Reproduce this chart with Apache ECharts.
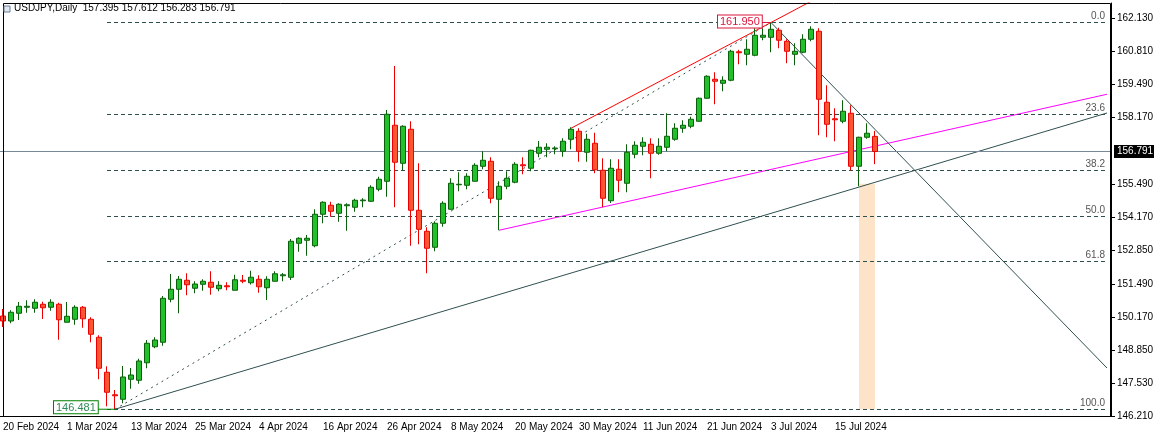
<!DOCTYPE html>
<html><head><meta charset="utf-8">
<script src="https://cdn.jsdelivr.net/npm/echarts@6/dist/echarts.min.js"></script>
<style>html,body{margin:0;padding:0;background:#fff}#c{width:1154px;height:438px}</style>
</head><body><div id="c"></div>
<script>
const opens=[150.21,150.01,150.32,150.56,150.52,150.68,150.56,150.68,149.96,150.08,150.56,150.08,149.36,147.96,147.06,146.88,147.68,147.64,148.34,148.98,149.16,150.88,151.28,151.64,151.32,151.48,151.56,151.30,151.42,151.24,151.64,151.54,151.68,151.34,151.60,151.82,151.76,153.12,153.24,153.02,154.28,154.64,154.32,154.62,154.56,154.82,154.80,155.28,155.60,157.84,156.32,157.68,154.44,153.60,152.96,153.92,154.48,155.46,155.44,155.60,156.20,156.40,154.88,155.40,155.56,156.26,156.12,156.72,156.88,156.90,156.80,157.28,157.60,156.76,157.12,156.04,154.82,156.08,155.52,156.68,157.00,157.08,156.72,156.96,157.28,157.72,157.80,158.00,158.92,159.68,159.52,159.64,160.78,160.68,160.64,161.36,161.36,161.64,161.20,160.68,160.76,161.28,161.60,158.76,158.10,158.00,158.32,156.20,157.36,157.395];
const highs=[150.49,150.44,150.77,150.84,150.88,150.78,150.88,150.74,150.77,150.64,150.61,150.16,149.44,148.20,147.25,148.21,148.13,148.50,149.25,149.36,151.01,151.89,151.81,151.92,151.60,151.68,152.00,151.60,151.56,151.86,151.85,152.02,151.84,151.80,152.00,151.93,153.29,153.36,153.45,154.48,154.80,154.78,154.72,154.72,154.90,154.92,155.44,155.78,158.45,160.21,157.84,158.00,156.32,153.76,154.00,154.80,155.72,155.96,155.92,156.32,156.80,156.56,155.60,156.00,156.36,156.56,156.86,157.21,157.12,157.00,157.32,157.76,157.72,157.50,157.54,156.52,156.48,156.48,157.08,157.20,157.36,157.32,157.32,158.32,157.92,158.04,158.18,158.95,159.84,159.96,159.80,160.86,160.86,161.28,161.72,161.72,161.95,161.74,161.28,161.12,161.48,161.80,161.72,159.44,158.52,158.84,158.64,157.38,157.92,157.612];
const lows=[149.77,149.92,150.05,150.34,150.34,150.09,150.42,149.26,149.96,149.86,149.74,149.16,147.68,146.60,146.481,146.72,147.30,147.50,148.12,148.92,149.02,150.76,150.32,151.04,151.12,151.22,151.06,151.20,151.24,151.24,151.52,151.47,151.14,150.85,151.60,151.60,151.65,152.78,152.62,152.96,153.92,154.18,153.98,153.62,154.38,154.56,154.77,155.20,154.98,154.56,156.05,153.02,153.08,151.92,152.80,153.78,154.48,155.20,155.28,155.60,156.08,154.72,153.64,155.28,155.52,155.88,156.00,156.56,156.56,156.68,156.58,156.88,156.38,156.38,155.92,154.56,154.73,155.16,155.16,156.52,156.64,155.72,156.66,156.80,157.22,157.54,157.72,157.98,158.90,158.68,159.20,159.60,160.28,160.24,160.60,161.24,160.76,160.92,160.32,160.24,160.72,161.20,157.44,157.36,157.20,157.92,156.04,155.40,157.30,156.283];
const closes=[150.01,150.36,150.60,150.60,150.76,150.54,150.76,150.06,150.20,150.56,150.10,149.48,148.12,147.16,147.02,147.77,147.85,148.41,149.12,149.25,150.92,151.28,151.68,151.46,151.49,151.60,151.36,151.44,151.38,151.66,151.60,151.76,151.38,151.68,151.90,151.86,153.20,153.32,153.32,154.28,154.76,154.40,154.68,154.66,154.84,154.85,155.36,155.68,158.28,156.36,157.80,154.44,153.68,152.92,153.92,154.72,155.52,155.48,155.80,156.24,156.44,154.92,155.40,155.72,156.28,156.22,156.84,156.96,156.96,156.93,157.20,157.68,156.80,157.28,156.06,154.92,156.12,155.64,156.76,157.04,157.16,156.72,157.00,157.40,157.72,157.84,158.08,158.92,159.80,159.60,159.64,160.80,160.74,160.88,161.44,161.44,161.68,161.24,160.80,160.80,161.28,161.68,158.88,157.88,158.06,158.40,156.20,157.36,157.52,156.791];
const dateTicks=["20 Feb 2024","1 Mar 2024","13 Mar 2024","25 Mar 2024","4 Apr 2024","16 Apr 2024","26 Apr 2024","8 May 2024","20 May 2024","30 May 2024","11 Jun 2024","21 Jun 2024","3 Jul 2024","15 Jul 2024"];
const priceTicks=[146.21,147.53,148.85,150.17,151.49,152.85,154.17,155.49,158.17,159.49,160.81,162.13];
const fibLevels=[0,23.6,38.2,50,61.8,100];
const swingHigh=161.95, swingLow=146.481, lastPrice=156.791;
const trendRed=[[71,157.72],[110,164.32]];
const trendMagenta=[[62,153.64],[138,159.08]];
const trendBlack=[[14,146.481],[138,158.33]];
const trendDown=[[96,161.95],[138,148.13]];
const fibDiag=[[14,146.481],[96,161.95]];

const N=139;
const cats=[];for(let i=0;i<N;i++)cats.push(String(i));
const candles=opens.map((o,i)=>[o,closes[i],lows[i],highs[i]]);
const F='Tahoma, "DejaVu Sans", sans-serif';
const F2='"Liberation Sans", Arial, sans-serif';
const lineS=(d,color,type)=>({type:'line',data:d,symbol:'none',silent:true,clip:true,lineStyle:{color:color,width:1,type:type||'solid'},z:3,animation:false});
const fibData=fibLevels.map(l=>{const v=swingHigh-(swingHigh-swingLow)*l/100;return [{coord:[13,v]},{coord:[138,v],label:{formatter:l.toFixed(1)}}];});
const tickOn=(i)=>i%8===0&&i/8<dateTicks.length;

const chart=echarts.init(document.getElementById('c'));
chart.setOption({
  animation:false,
  grid:{left:-1,right:43,top:3,bottom:22,containLabel:false,outerBoundsMode:'none'},
  xAxis:{type:'category',data:cats,boundaryGap:true,
    axisLine:{lineStyle:{color:'#000'}},
    axisTick:{interval:tickOn,alignWithLabel:true,lineStyle:{color:'#000'},length:4},
    axisLabel:{interval:tickOn,hideOverlap:false,formatter:(v,i)=>dateTicks[i/8]||'',align:'left',color:'#000',fontSize:10,fontFamily:F2,margin:6},
    splitLine:{show:false}},
  yAxis:{type:'value',position:'right',min:146.21,max:162.73,scale:true,
    axisLine:{show:true,lineStyle:{color:'#000'}},
    axisTick:{show:true,customValues:priceTicks,length:4,lineStyle:{color:'#000'}},
    axisLabel:{customValues:priceTicks,formatter:v=>v.toFixed(3),color:'#000',fontSize:10,fontFamily:F2,margin:6},
    splitLine:{show:false}},
  series:[
    {type:'candlestick',data:candles,barWidth:6,z:5,
      itemStyle:{color:'#22c02a',color0:'#ff5533',borderColor:'#0a5f0a',borderColor0:'#ee0000',borderWidth:1},
      markArea:{silent:true,itemStyle:{color:'#fde3c8'},data:[[{coord:[107,155.5]},{coord:[109,swingLow]}]]},
      markLine:{silent:true,symbol:'none',animation:false,
        lineStyle:{color:'#778899',width:1,type:'solid'},
        label:{show:true,position:'end',formatter:lastPrice.toFixed(3),backgroundColor:'#000',color:'#fff',fontSize:10,fontFamily:F2,padding:[2,3,1,3],distance:3},
        data:[{yAxis:lastPrice}]}},
    {type:'line',data:[],symbol:'none',silent:true,
      markLine:{silent:true,symbol:'none',animation:false,
        lineStyle:{color:'#2f4f4f',width:1,type:[4,3]},
        label:{show:true,position:'insideEndTop',color:'#555',fontSize:10,fontFamily:F2,distance:[2,1]},
        data:fibData}},
    lineS(fibDiag,'#2f4f4f',[2,4]),
    lineS(trendRed,'#ff0000'),
    lineS(trendMagenta,'#ff00ff'),
    lineS(trendBlack,'#2f4f4f'),
    lineS(trendDown,'#2f4f4f')
  ]
});
const pLow=chart.convertToPixel({gridIndex:0},[14,swingLow]);
const pHigh=chart.convertToPixel({gridIndex:0},[96,swingHigh]);
chart.setOption({graphic:[
  {type:'rect',shape:{x:3.5,y:3.5,width:1107,height:413},style:{fill:'none',stroke:'#000',lineWidth:1},z:100,silent:true},
  {type:'text',left:14,top:3,style:{text:'USDJPY,Daily  157.395 157.612 156.283 156.791',fill:'#000',font:'10px '+F2},z:100},
  {type:'polygon',shape:{points:[[4,6],[10,6],[10,12],[4,12]]},style:{fill:'#dfe7ef',stroke:'#6a7f96'},z:100},
  {type:'line',shape:{x1:pLow[0]-18,y1:pLow[1],x2:pLow[0],y2:pLow[1]},style:{stroke:'#008000',lineWidth:1},z:100},
  {type:'text',x:pLow[0]-61,y:pLow[1]-8,style:{text:'146.481',fill:'#2e8b57',font:'11px '+F2,backgroundColor:'#fff',borderColor:'#008000',borderWidth:1,padding:[1,2,0,2]},z:100},
  {type:'line',shape:{x1:pHigh[0]-10,y1:pHigh[1],x2:pHigh[0],y2:pHigh[1]},style:{stroke:'#dc143c',lineWidth:1},z:100},
  {type:'text',x:pHigh[0]-53,y:pHigh[1]-7,style:{text:'161.950',fill:'#dc143c',font:'11px '+F2,backgroundColor:'#fff',borderColor:'#dc143c',borderWidth:1,padding:[1,2,0,2]},z:100}
]});
</script></body></html>
